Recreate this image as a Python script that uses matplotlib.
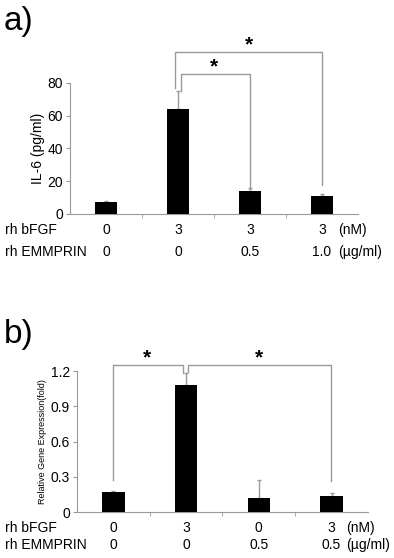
import matplotlib.pyplot as plt
import numpy as np

plt.rcParams['font.family'] = ['Liberation Sans', 'DejaVu Sans']

# panel a) IL-6
a_vals = [7.5, 64, 14, 11]
a_err = [0.5, 11, 2, 1.5]
a_fgf = ['0', '3', '3', '3']
a_emm = ['0', '0', '0.5', '1.0']

# panel b) relative gene expression
b_vals = [0.17, 1.08, 0.12, 0.14]
b_err = [0.01, 0.10, 0.15, 0.02]
b_fgf = ['0', '3', '0', '3']
b_emm = ['0', '0', '0.5', '0.5']

GRAY = '#9a9a9a'
FS = 10

fig = plt.figure(figsize=(3.94, 5.58), dpi=100)


def draw_panel(ax, vals, err, ylim, yticks, ticklabels):
    x = np.arange(len(vals))
    ax.bar(x, vals, width=0.31, color='black', zorder=3)
    ax.errorbar(x, vals, yerr=[np.zeros(len(err)), err], fmt='none',
                ecolor=GRAY, elinewidth=1, capsize=1.5, zorder=2)
    ax.set_xlim(-0.5, len(vals) - 0.5)
    ax.set_ylim(*ylim)
    ax.set_yticks(yticks)
    ax.set_yticklabels(ticklabels, fontsize=FS)
    ax.set_xticks([])
    ax.set_xticks(np.arange(len(vals) - 1) + 0.5, minor=True)
    ax.tick_params(axis='x', which='minor', length=3, color=GRAY, direction='out')
    ax.tick_params(axis='y', length=3, color=GRAY, pad=2)
    for s in ['top', 'right']:
        ax.spines[s].set_visible(False)
    for s in ['left', 'bottom']:
        ax.spines[s].set_color(GRAY)
        ax.spines[s].set_linewidth(0.8)


def bracket(ax, x1, x2, y, y1, y2):
    ax.plot([x1, x1, x2, x2], [y1, y, y, y2], color=GRAY, lw=1, clip_on=False)


def row_labels(ax, fgf, emm, y1, y2, unit_x):
    tr = ax.get_xaxis_transform()
    for i, (f, e) in enumerate(zip(fgf, emm)):
        ax.text(i, y1, f, transform=tr, ha='center', va='center', fontsize=FS)
        ax.text(i, y2, e, transform=tr, ha='center', va='center', fontsize=FS)
    ax.text(unit_x, y1, '(nM)', transform=tr, ha='left', va='center', fontsize=FS)
    ax.text(unit_x, y2, '(µg/ml)', transform=tr, ha='left', va='center', fontsize=FS)
    fig.text(0.013, ax.transAxes.transform((0, y1))[1] / fig.bbox.height,
             'rh bFGF', ha='left', va='center', fontsize=FS)
    fig.text(0.013, ax.transAxes.transform((0, y2))[1] / fig.bbox.height,
             'rh EMMPRIN', ha='left', va='center', fontsize=FS)


# a)
ax1 = fig.add_axes([0.1777, 0.6165, 0.731, 0.2348])
draw_panel(ax1, a_vals, a_err, (0, 80), [0, 20, 40, 60, 80],
           ['0', '20', '40', '60', '80'])
ax1.set_ylabel('IL-6 (pg/ml)', fontsize=FS, labelpad=2)
bracket(ax1, 0.96, 3.0, 99, 77, 18)
bracket(ax1, 1.04, 2.0, 85.5, 75, 15)
ax1.text(1.5, 84, '*', ha='center', va='bottom', fontsize=15, fontweight='bold')
ax1.text(1.98, 97.5, '*', ha='center', va='bottom', fontsize=15, fontweight='bold')
row_labels(ax1, a_fgf, a_emm, -0.122, -0.29, 3.22)
fig.text(0.01, 0.99, 'a)', fontsize=24, ha='left', va='top')

# b)
ax2 = fig.add_axes([0.1954, 0.0824, 0.7386, 0.2527])
draw_panel(ax2, b_vals, b_err, (0, 1.2), [0, 0.3, 0.6, 0.9, 1.2],
           ['0', '0.3', '0.6', '0.9', '1.2'])
ax2.set_ylabel('Relative Gene Expression(fold)', fontsize=6.5, labelpad=3)
bracket(ax2, 0.0, 0.96, 1.25, 0.27, 1.18)
bracket(ax2, 1.03, 2.99, 1.25, 1.19, 0.26)
ax2.text(0.46, 1.235, '*', ha='center', va='bottom', fontsize=15, fontweight='bold')
ax2.text(2.0, 1.235, '*', ha='center', va='bottom', fontsize=15, fontweight='bold')
row_labels(ax2, b_fgf, b_emm, -0.113, -0.234, 3.2)
fig.text(0.01, 0.428, 'b)', fontsize=24, ha='left', va='top')

fig.savefig('out.png', dpi=100)
